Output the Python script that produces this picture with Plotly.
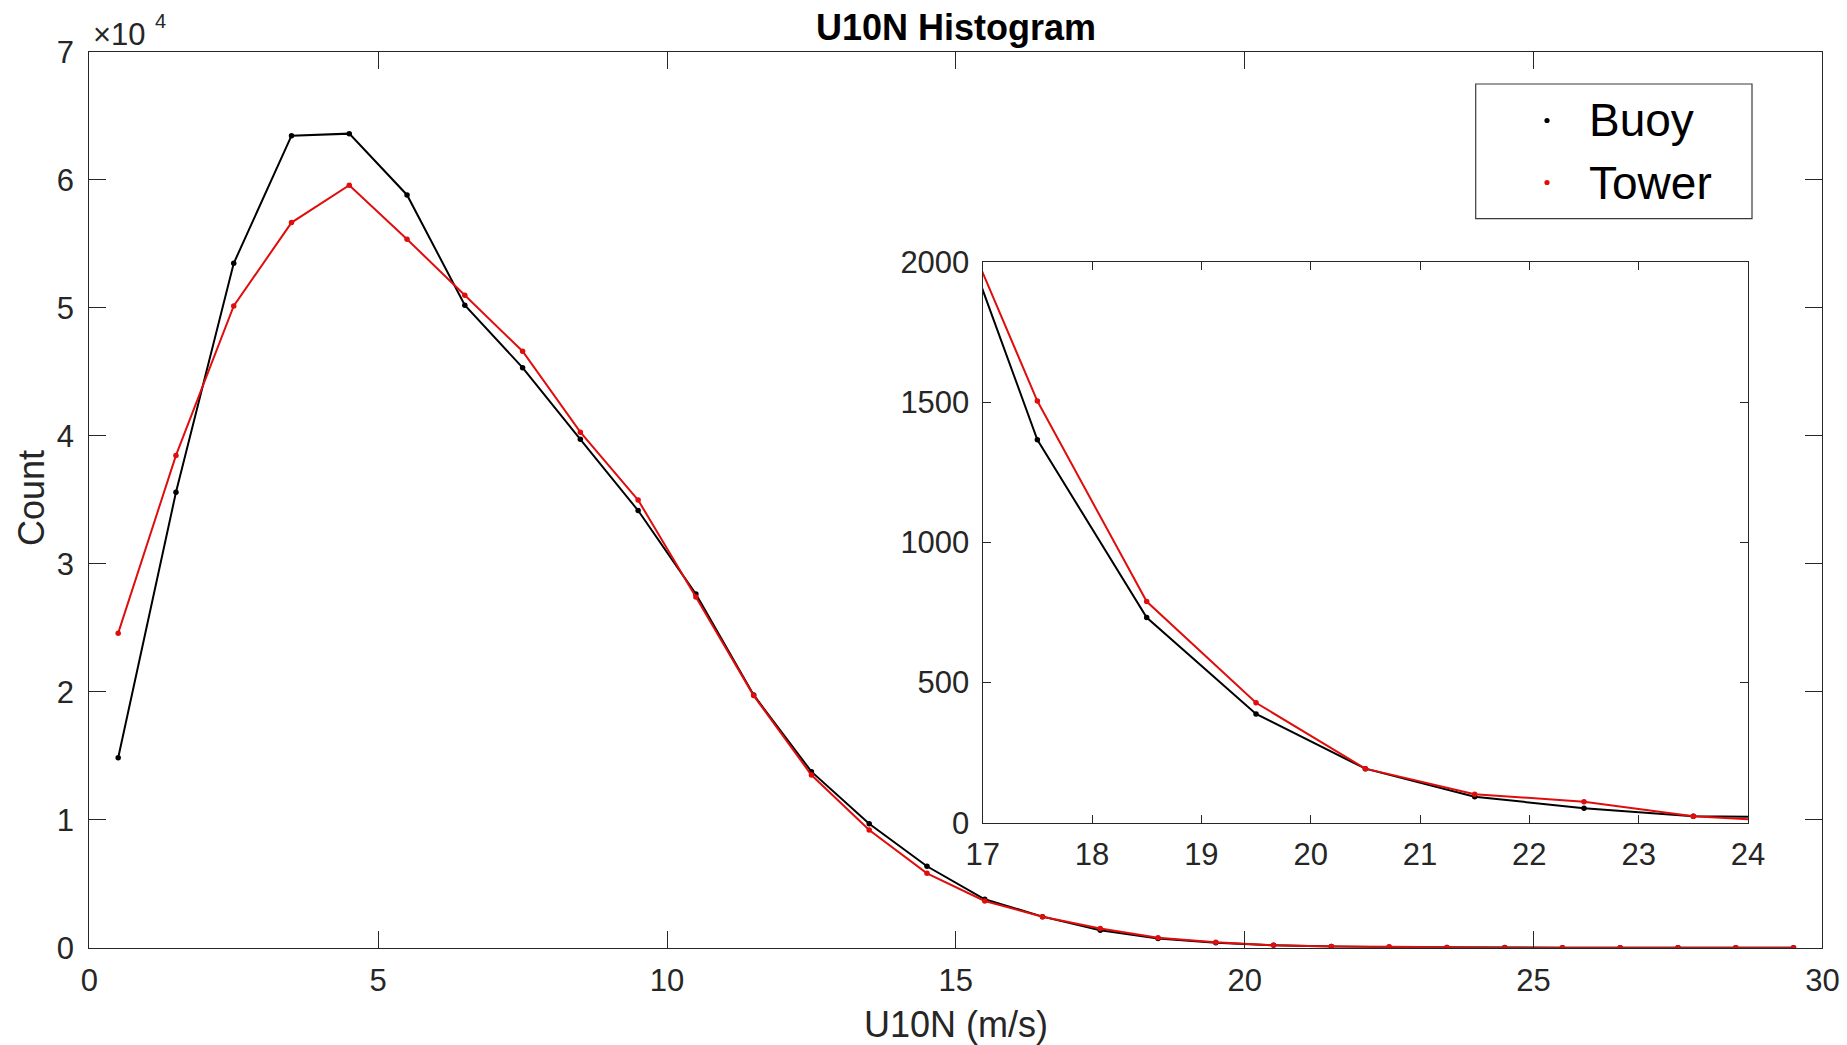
import plotly.graph_objects as go

# ---------------- data ----------------
bins = [0.5 + i for i in range(30)]
buoy = [14840, 35580, 53470, 63440, 63600, 58810, 50200, 45320, 39720, 34160,
        27630, 19750, 13760, 9690, 6370, 3790, 2435, 1366, 732, 388,
        193, 93, 52, 23, 17, 8, 5, 3, 2, 1]
tower = [24580, 38460, 50140, 56650, 59570, 55350, 50980, 46600, 40280, 34980,
         27400, 19700, 13500, 9200, 5820, 3660, 2420, 1504, 789, 428,
         193, 102, 75, 23, 3, 2, 1, 1, 0, 0]
series_names = ["Buoy", "Tower"]
main_xticks = [0, 5, 10, 15, 20, 25, 30]
main_yticks = [0, 10000, 20000, 30000, 40000, 50000, 60000, 70000]
main_yticktext = ["0", "1", "2", "3", "4", "5", "6", "7"]
inset_xticks = [17, 18, 19, 20, 21, 22, 23, 24]
inset_yticks = [0, 500, 1000, 1500, 2000]

# ---------------- layout constants ----------------
W, H = 1847, 1045
OFF = 8  # page body margin
FONT = "Liberation Sans, Arial, Helvetica, sans-serif"
AX = "#262626"
BLACK = "#000000"
RED = "#e00d0d"

def px_x(x):
    return (x - OFF) / W

def px_y(y):
    return 1 - (y - OFF) / H

main_l, main_r, main_t, main_b = 89.3, 1822.4, 51.7, 947.8
ins_l, ins_r, ins_t, ins_b = 982.7, 1748.0, 262.0, 822.8

fig = go.Figure()
colors = [BLACK, RED]
for name, vals, col in zip(series_names, [buoy, tower], colors):
    fig.add_trace(go.Scatter(x=bins, y=vals, mode="lines+markers", name=name,
                             line=dict(color=col, width=2),
                             marker=dict(color=col, size=5.5),
                             xaxis="x", yaxis="y", showlegend=False))
for name, vals, col in zip(series_names, [buoy, tower], colors):
    fig.add_trace(go.Scatter(x=bins, y=vals, mode="lines+markers", name=name,
                             line=dict(color=col, width=2),
                             marker=dict(color=col, size=5.5),
                             xaxis="x2", yaxis="y2", showlegend=False))

axis_common = dict(showgrid=False, zeroline=False, showline=True, linecolor=AX,
                   linewidth=1.3, mirror="ticks", ticks="inside", tickcolor=AX,
                   tickwidth=1.2, automargin=False,
                   tickfont=dict(family=FONT, size=31, color=AX))

fig.update_layout(
    template="none",
    width=W, height=H,
    margin=dict(l=0, r=0, t=0, b=0, pad=0),
    paper_bgcolor="white", plot_bgcolor="white",
    showlegend=False,
    xaxis=dict(domain=[px_x(main_l), px_x(main_r)], range=[0, 30],
               tickvals=main_xticks, ticklen=17, ticklabelstandoff=5,
               anchor="y", **axis_common),
    yaxis=dict(domain=[px_y(main_b), px_y(main_t)], range=[0, 70000],
               tickvals=main_yticks, ticktext=main_yticktext, ticklen=17,
               ticklabelstandoff=8, anchor="x", **axis_common),
    xaxis2=dict(domain=[px_x(ins_l), px_x(ins_r)], range=[17, 24],
                tickvals=inset_xticks, ticklen=8, ticklabelstandoff=4,
                anchor="y2", **axis_common),
    yaxis2=dict(domain=[px_y(ins_b), px_y(ins_t)], range=[0, 2000],
                tickvals=inset_yticks, ticklen=8, ticklabelstandoff=6,
                anchor="x2", **axis_common),
)

# inset white background
fig.add_shape(type="rect", xref="paper", yref="paper",
              x0=px_x(ins_l), x1=px_x(ins_r), y0=px_y(ins_b), y1=px_y(ins_t),
              fillcolor="white", line=dict(width=0), layer="below")

annotations = [
    dict(text="<b>U10N Histogram</b>", x=px_x(956), y=px_y(27), xanchor="center",
         yanchor="middle", font=dict(family=FONT, size=36, color=BLACK)),
    dict(text="U10N (m/s)", x=px_x(956), y=px_y(1024), xanchor="center",
         yanchor="middle", font=dict(family=FONT, size=36, color=AX)),
    dict(text="Count", x=px_x(31), y=px_y(498), xanchor="center", yanchor="middle",
         textangle=-90, font=dict(family=FONT, size=36, color=AX)),
    # axis exponent label: "×10" with a raised "4"
    dict(text="×10", x=px_x(91), y=px_y(34.5), xanchor="left",
         yanchor="middle", font=dict(family=FONT, size=31, color=AX)),
    dict(text="4", x=px_x(153), y=px_y(20.5), xanchor="left",
         yanchor="middle", font=dict(family=FONT, size=20, color=AX)),
]

# legend (drawn manually to match box padding)
leg_l, leg_r, leg_t, leg_b = 1475.7, 1752, 84, 218.7
fig.add_shape(type="rect", xref="paper", yref="paper",
              x0=px_x(leg_l), x1=px_x(leg_r), y0=px_y(leg_b), y1=px_y(leg_t),
              fillcolor="white", line=dict(color="#3a3a3a", width=1.2))
leg_rows = [120.5, 182.5]
for name, col, yy in zip(series_names, colors, leg_rows):
    r = 2.6
    fig.add_shape(type="circle", xref="paper", yref="paper",
                  x0=px_x(1547 - r), x1=px_x(1547 + r),
                  y0=px_y(yy + r), y1=px_y(yy - r),
                  fillcolor=col, line=dict(color=col, width=0))
    annotations.append(dict(text=name, x=px_x(1587), y=px_y(yy), xanchor="left",
                            yanchor="middle",
                            font=dict(family=FONT, size=46, color=BLACK)))

for a in annotations:
    a.setdefault("xref", "paper")
    a.setdefault("yref", "paper")
    a.setdefault("showarrow", False)
fig.update_layout(annotations=annotations)

fig.write_html("out.html")
